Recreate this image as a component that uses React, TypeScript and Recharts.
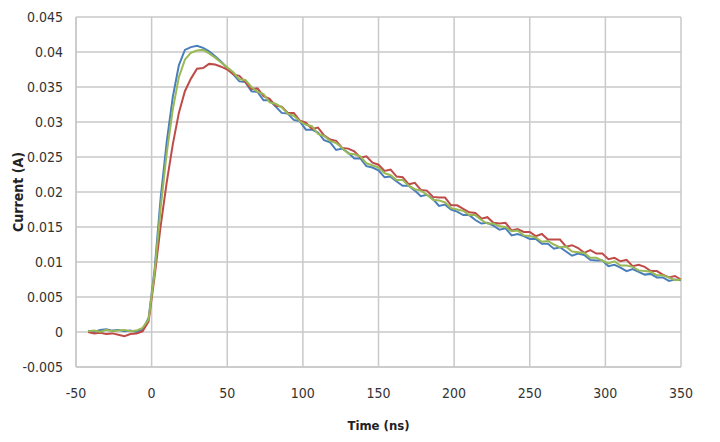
import { LineChart, Line, XAxis, YAxis, CartesianGrid, Label } from "recharts";

// sample times in ns
const TIME_NS = [
  -42, -38, -34, -30, -26, -22, -18, -14, -10, -6, -2,
  2, 6, 10, 14, 18, 22, 26, 30, 34, 38, 42, 46, 50,
  54, 58, 62, 66, 70, 74, 78, 82, 86, 90,
  94, 98, 102, 106, 110, 114, 118, 122, 126, 130,
  134, 138, 142, 146, 150, 154, 158, 162, 166, 170,
  174, 178, 182, 186, 190, 194, 198, 202, 206, 210,
  214, 218, 222, 226, 230, 234, 238, 242, 246, 250,
  254, 258, 262, 266, 270, 274, 278, 282, 286, 290,
  294, 298, 302, 306, 310, 314, 318, 322, 326, 330,
  334, 338, 342, 346, 350,
];

const BLUE_A = [
  0.0002, 0, 0.0003, 0.0004, 0.0002, 0.0003, 0.0001, 0.0002, 0, 0.0003, 0.002,
  0.009, 0.0192, 0.0272, 0.0336, 0.0381, 0.0403, 0.0407, 0.0409, 0.0406, 0.0401, 0.0394, 0.0386, 0.0377,
  0.0368, 0.0358, 0.0357, 0.0344, 0.0343, 0.0331, 0.0331, 0.0322, 0.0313, 0.0312,
  0.0303, 0.0301, 0.0289, 0.0289, 0.0285, 0.0274, 0.0271, 0.026, 0.0262, 0.0256,
  0.0248, 0.0248, 0.0237, 0.0235, 0.0231, 0.0221, 0.0222, 0.0215, 0.0209, 0.0209,
  0.0202, 0.0194, 0.0196, 0.019, 0.018, 0.0182, 0.0175, 0.0172, 0.0167, 0.0167,
  0.016, 0.0155, 0.0156, 0.0152, 0.0146, 0.0148, 0.0138, 0.014, 0.0137, 0.0133,
  0.0133, 0.0126, 0.0126, 0.0119, 0.0121, 0.0115, 0.0109, 0.0112, 0.011, 0.0103,
  0.0102, 0.0102, 0.0094, 0.0096, 0.0092, 0.0087, 0.009, 0.0086, 0.0082, 0.0083,
  0.0078, 0.0078, 0.0073, 0.0075, 0.0074,
];

const RED_A = [
  0, -0.0002, -0.0001, -0.0003, -0.0002, -0.0004, -0.0006, -0.0003, -0.0002, 0.0001, 0.0015,
  0.008, 0.0152, 0.0214, 0.0268, 0.0313, 0.0344, 0.0362, 0.0376, 0.0377, 0.0383, 0.0382, 0.0379, 0.0375,
  0.0368, 0.0366, 0.0357, 0.0347, 0.0348, 0.0337, 0.0333, 0.0323, 0.0322, 0.0313,
  0.0313, 0.0302, 0.0299, 0.029, 0.0292, 0.0281, 0.0275, 0.0273, 0.0263, 0.0262,
  0.0258, 0.0249, 0.0251, 0.0242, 0.0239, 0.023, 0.0232, 0.0222, 0.0221, 0.0211,
  0.0213, 0.0203, 0.0202, 0.0193, 0.0192, 0.0192, 0.0181, 0.0181, 0.0176, 0.0171,
  0.017, 0.0162, 0.0164, 0.0156, 0.0155, 0.0156, 0.0145, 0.0147, 0.0143, 0.0143,
  0.0137, 0.014, 0.0132, 0.0132, 0.0132, 0.0122, 0.0124, 0.012, 0.0113, 0.0117,
  0.0112, 0.0112, 0.0104, 0.0106, 0.0101, 0.0103, 0.0094, 0.0096, 0.0093, 0.0087,
  0.0087, 0.0082, 0.0078, 0.008, 0.0075,
];

const GREEN_A = [
  0.0001, 0.0002, 0, 0.0003, 0.0001, 0.0002, 0.0003, 0.0001, 0.0002, 0.0006, 0.0018,
  0.0086, 0.0178, 0.0256, 0.0318, 0.0364, 0.0389, 0.0399, 0.0402, 0.0403, 0.0398, 0.0392, 0.0385, 0.0378,
  0.0371, 0.0361, 0.036, 0.035, 0.0343, 0.034, 0.0328, 0.0326, 0.0321, 0.0312,
  0.0309, 0.0301, 0.0296, 0.0294, 0.0283, 0.028, 0.0273, 0.027, 0.0263, 0.0255,
  0.0254, 0.0251, 0.0241, 0.0238, 0.0235, 0.0227, 0.0224, 0.0217, 0.0217, 0.0209,
  0.0204, 0.0202, 0.0196, 0.0189, 0.0188, 0.0185, 0.0177, 0.0175, 0.0173, 0.0167,
  0.0167, 0.016, 0.0155, 0.0155, 0.0151, 0.015, 0.0144, 0.0145, 0.0138, 0.0137,
  0.0135, 0.0129, 0.013, 0.0125, 0.0121, 0.0122, 0.0115, 0.0114, 0.0113, 0.0106,
  0.0106, 0.0102, 0.0098, 0.0101, 0.0095, 0.0095, 0.0093, 0.0088, 0.0087, 0.0086,
  0.0081, 0.0081, 0.0078, 0.0074, 0.0075,
];

const X_TICKS = [-50, 0, 50, 100, 150, 200, 250, 300, 350];
const Y_TICKS = [-0.005, 0, 0.005, 0.01, 0.015, 0.02, 0.025, 0.03, 0.035, 0.04, 0.045];

const FONT = '"Liberation Sans Narrow", "DejaVu Sans Condensed", Roboto, sans-serif';
const GRID = "#c9c9c9";

const data = TIME_NS.map((t, i) => ({
  t,
  blue: BLUE_A[i],
  red: RED_A[i],
  green: GREEN_A[i],
}));

function YTitle({ viewBox }: any) {
  const x = viewBox.x + 18;
  const y = viewBox.y + viewBox.height / 2;
  return (
    <text
      x={x}
      y={y}
      transform={`rotate(-90 ${x} ${y})`}
      textAnchor="middle"
      dominantBaseline="central"
      fontFamily={FONT}
      fontSize={14}
      fontWeight="bold"
      fill="#222"
    >
      Current (A)
    </text>
  );
}

export default function App() {
  return (
    <div style={{ position: "absolute", left: 0, top: 0, background: "#fff" }}>
      <LineChart
        width={720}
        height={442}
        data={data}
        margin={{ top: 17, right: 39, bottom: 0, left: 0 }}
        style={{ fontFamily: FONT }}
      >
        <CartesianGrid stroke={GRID} strokeWidth={1.5} />
        <XAxis
          dataKey="t"
          type="number"
          domain={[-50, 350]}
          ticks={X_TICKS}
          height={75}
          axisLine={{ stroke: GRID, strokeWidth: 1.5 }}
          tickLine={false}
          tickMargin={15}
          tick={{ fill: "#333", fontSize: 14 }}
        >
          <Label
            value="Time (ns)"
            position="insideBottom"
            offset={12}
            style={{ fontFamily: FONT, fontSize: 13, fontWeight: "bold", fill: "#222" }}
          />
        </XAxis>
        <YAxis
          type="number"
          domain={[-0.005, 0.045]}
          ticks={Y_TICKS}
          width={76}
          axisLine={{ stroke: GRID, strokeWidth: 1.5 }}
          tickLine={false}
          tickMargin={7}
          tick={{ fill: "#333", fontSize: 14 }}
          tickFormatter={(v) => String(v)}
        >
          <Label content={YTitle} />
        </YAxis>
        <Line dataKey="blue" stroke="#4a7ebb" strokeWidth={2} dot={false} isAnimationActive={false} />
        <Line dataKey="red" stroke="#be4b48" strokeWidth={2} dot={false} isAnimationActive={false} />
        <Line dataKey="green" stroke="#98b954" strokeWidth={2} dot={false} isAnimationActive={false} />
      </LineChart>
    </div>
  );
}
